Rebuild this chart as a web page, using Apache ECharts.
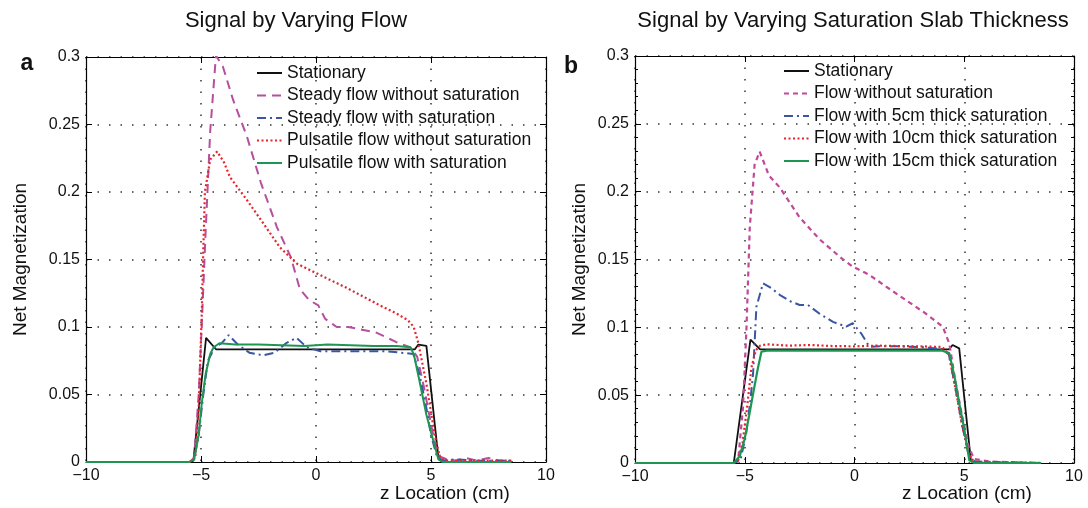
<!DOCTYPE html>
<html>
<head>
<meta charset="utf-8">
<title>Signal by Varying Flow / Saturation Slab Thickness</title>
<script src="https://cdn.jsdelivr.net/npm/echarts@6/dist/echarts.min.js"></script>
<style>
  html, body { margin: 0; padding: 0; background: #fff; }
  #chart { width: 1088px; height: 508px; }
</style>
</head>
<body>
<div id="chart"></div>
<script>
// ---- panel a: signal by varying flow ----
const aStationaryX = [-10, -5.5, -5.33, -4.78, -4.35, 0, 4.3, 4.45, 4.8, 5.32, 5.5, 8.5];
const aStationaryY = [0, 0, 0.001, 0.092, 0.0835, 0.0835, 0.0835, 0.087, 0.086, 0.003, 0, 0];

const aSteadyNoSatX = [-10, -5.5, -5.3, -5.1, -4.97, -4.8, -4.6, -4.35, -4.05, -3.6, -3.0, -2.4, -1.7, -1.1, -0.7, -0.3, 0.1, 0.4, 0.9, 1.4, 2.0, 2.6, 3.1, 3.6, 4.1, 4.4, 4.7, 5.0, 5.2, 5.4, 5.7, 6.1, 6.5, 7.0, 7.5, 8.0, 8.5];
const aSteadyNoSatY = [0, 0, 0.003, 0.05, 0.1, 0.17, 0.245, 0.301, 0.293, 0.268, 0.241, 0.207, 0.174, 0.152, 0.128, 0.12, 0.116, 0.106, 0.1, 0.1, 0.098, 0.096, 0.092, 0.088, 0.085, 0.078, 0.055, 0.028, 0.012, 0.004, 0.002, 0.001, 0.003, 0.001, 0.003, 0.001, 0.001];

const aSteadySatX = [-10, -5.5, -5.3, -5.1, -4.9, -4.7, -4.4, -4.1, -3.8, -3.4, -2.9, -2.3, -1.8, -1.3, -0.85, -0.4, 0.2, 1.0, 2.0, 3.0, 3.7, 4.23, 4.5, 4.8, 5.0, 5.24, 5.5, 6.0, 7.0, 8.5];
const aSteadySatY = [0, 0, 0.002, 0.02, 0.05, 0.075, 0.085, 0.088, 0.094, 0.087, 0.081, 0.079, 0.081, 0.088, 0.092, 0.085, 0.082, 0.082, 0.082, 0.082, 0.081, 0.08, 0.065, 0.04, 0.02, 0.005, 0.001, 0.002, 0.001, 0.001];

const aPulsNoSatX = [-10, -5.5, -5.25, -5.1, -4.97, -4.9, -4.83, -4.6, -4.3, -4.0, -3.74, -3.0, -2.3, -1.57, -0.84, -0.12, 0.6, 1.33, 2.06, 2.78, 3.5, 4.0, 4.25, 4.45, 4.8, 5.17, 5.4, 5.7, 8.5];
const aPulsNoSatY = [0, 0, 0.003, 0.04, 0.108, 0.157, 0.2, 0.224, 0.23, 0.222, 0.211, 0.194, 0.177, 0.159, 0.147, 0.141, 0.135, 0.129, 0.1225, 0.116, 0.11, 0.105, 0.1, 0.088, 0.058, 0.019, 0.003, 0.001, 0.001];

const aPulsSatX = [-10, -5.5, -5.3, -5.1, -4.97, -4.8, -4.6, -4.45, -4.2, -3.5, -2.5, -1.5, -0.5, 0.5, 1.5, 2.5, 3.5, 4.1, 4.25, 4.5, 4.8, 5.0, 5.32, 5.5, 8.5];
const aPulsSatY = [0, 0, 0.002, 0.02, 0.043, 0.065, 0.08, 0.085, 0.088, 0.087, 0.087, 0.0865, 0.086, 0.087, 0.0865, 0.086, 0.086, 0.085, 0.08, 0.06, 0.035, 0.022, 0.002, 0, 0];

// ---- panel b: signal by varying saturation slab thickness ----
const bStationaryX = [-10, -5.5, -5.45, -4.74, -4.3, 0, 4.3, 4.47, 4.77, 5.3, 5.5, 8.5];
const bStationaryY = [0, 0, 0.001, 0.091, 0.0838, 0.0838, 0.0838, 0.087, 0.0845, 0.002, 0, 0];

const bNoSatX = [-10, -5.5, -5.3, -5.08, -4.92, -4.77, -4.55, -4.32, -3.9, -3.4, -2.5, -1.6, -1.1, -0.6, -0.08, 0.68, 1.44, 2.35, 3.26, 4.02, 4.32, 4.6, 4.9, 5.2, 5.45, 5.8, 6.2, 8.5];
const bNoSatY = [0, 0, 0.002, 0.041, 0.1, 0.174, 0.22, 0.2295, 0.212, 0.203, 0.181, 0.165, 0.158, 0.151, 0.1447, 0.1386, 0.13, 0.12, 0.11, 0.1005, 0.088, 0.06, 0.035, 0.012, 0.003, 0.002, 0.001, 0];

const b5cmX = [-10, -5.5, -5.2, -4.95, -4.75, -4.62, -4.47, -4.17, -3.8, -3.41, -2.9, -2.5, -2.12, -1.59, -0.98, -0.38, -0.08, 0.3, 0.68, 1.2, 2.0, 3.0, 4.0, 4.3, 4.6, 4.9, 5.2, 5.5, 8.5];
const b5cmY = [0, 0, 0.002, 0.02, 0.045, 0.066, 0.115, 0.1324, 0.129, 0.124, 0.119, 0.1165, 0.1165, 0.11, 0.104, 0.1005, 0.103, 0.0956, 0.0857, 0.086, 0.086, 0.0855, 0.084, 0.08, 0.055, 0.028, 0.006, 0.001, 0];

const b10cmX = [-10, -5.5, -5.3, -5.1, -4.9, -4.7, -4.5, -4.3, -4.0, -3.0, -2.0, -1.0, 0, 1.0, 2.0, 3.0, 4.0, 4.3, 4.6, 4.9, 5.2, 5.45, 8.5];
const b10cmY = [0, 0, 0.002, 0.015, 0.04, 0.07, 0.083, 0.0865, 0.0875, 0.0865, 0.087, 0.0862, 0.086, 0.0865, 0.0862, 0.086, 0.0855, 0.08, 0.055, 0.028, 0.006, 0.001, 0];

const b15cmX = [-10, -5.5, -5.23, -5.0, -4.8, -4.62, -4.4, -4.24, -4.0, 0, 4.0, 4.32, 4.6, 4.77, 5.0, 5.23, 5.45, 8.5];
const b15cmY = [0, 0, 0.005, 0.018, 0.035, 0.051, 0.07, 0.082, 0.0828, 0.0828, 0.0828, 0.081, 0.06, 0.044, 0.025, 0.002, 0, 0];

const aNames = ['Stationary', 'Steady flow without saturation', 'Steady flow with saturation',
  'Pulsatile flow without saturation', 'Pulsatile flow with saturation'];
const bNames = ['Stationary', 'Flow without saturation', 'Flow with 5cm thick saturation',
  'Flow with 10cm thick saturation', 'Flow with 15cm thick saturation'];

const FONT = '"Liberation Sans", Arial, Helvetica, sans-serif';
const INK = '#111';

const pts = (xs, ys) => xs.map((x, i) => [x, ys[i]]);

function line(name, xs, ys, panel, color, type, width) {
  return {
    name, type: 'line', data: pts(xs, ys),
    xAxisIndex: panel * 2, yAxisIndex: panel * 2,
    symbol: 'none', showSymbol: false, clip: true,
    lineStyle: { color, type, width },
    itemStyle: { color },
    emphasis: { disabled: true }
  };
}

const dotted = { color: '#333', type: [1.5, 10], width: 1.5 };
const minus = v => (v < 0 ? '\u2212' + (-v) : String(v));

function xAxes(grid) {
  const base = {
    type: 'value', gridIndex: grid, min: -10, max: 10, interval: 5,
    axisLine: { show: true, onZero: false, lineStyle: { color: '#000', width: 1.2 } },
    axisTick: { show: true, inside: true, length: 6, lineStyle: { color: '#000' } }
  };
  return [
    Object.assign({}, base, {
      position: 'bottom',
      axisLabel: { color: INK, fontSize: 16, fontFamily: FONT, margin: 6, formatter: minus },
      splitLine: { show: true, lineStyle: dotted }
    }),
    Object.assign({}, base, {
      position: 'top', axisLabel: { show: false }, splitLine: { show: false }
    })
  ];
}

function yAxes(grid, minor, nameGap) {
  const base = {
    type: 'value', gridIndex: grid, min: 0, max: 0.3, interval: 0.05,
    axisLine: { show: true, onZero: false, lineStyle: { color: '#000', width: 1.2 } },
    axisTick: { show: true, inside: true, length: 6, lineStyle: { color: '#000' } },
    minorTick: { show: minor, splitNumber: 5, length: 3, lineStyle: { color: '#000' } }
  };
  return [
    Object.assign({}, base, {
      position: 'left',
      name: 'Net Magnetization', nameLocation: 'middle', nameGap,
      nameTextStyle: { color: INK, fontSize: 19, fontFamily: FONT },
      axisLabel: { color: INK, fontSize: 16, fontFamily: FONT, margin: 6 },
      splitLine: { show: true, lineStyle: dotted }
    }),
    Object.assign({}, base, {
      position: 'right', axisLabel: { show: false }, splitLine: { show: false }
    })
  ];
}

// legend keeps only the line sample; the symbol dot is hidden
function legend(data, left, top) {
  return {
    data, left, top, orient: 'vertical', selectedMode: false,
    itemWidth: 25, itemHeight: 14, itemGap: 4.5,
    itemStyle: { opacity: 0 },
    textStyle: { color: INK, fontSize: 17.5, fontFamily: FONT, lineHeight: 17 }
  };
}

function label(text, x, y, size, weight) {
  return {
    type: 'text', x, y, silent: true,
    style: { text, fill: INK, fontSize: size, fontWeight: weight || 'normal', fontFamily: FONT,
      align: 'center', verticalAlign: 'middle' }
  };
}

const option = {
  animation: false,
  backgroundColor: '#fff',
  grid: [
    { left: 86, right: 542, top: 57, bottom: 46 },
    { left: 635, right: 14, top: 56, bottom: 45 }
  ],
  xAxis: [...xAxes(0), ...xAxes(1)],
  yAxis: [...yAxes(0, false, 56), ...yAxes(1, true, 46)],
  legend: [legend(aNames, 251, 59), legend(bNames, 778, 57)],
  graphic: [
    label('Signal by Varying Flow', 296, 21, 22),
    label('Signal by Varying Saturation Slab Thickness', 853, 21, 22),
    label('a', 27, 64, 23, 'bold'),
    label('b', 571, 67, 23, 'bold'),
    label('z Location (cm)', 445, 494, 19),
    label('z Location (cm)', 967, 494, 19)
  ],
  series: [
    line(aNames[0], aStationaryX, aStationaryY, 0, '#111', 'solid', 1.8),
    line(aNames[1], aSteadyNoSatX, aSteadyNoSatY, 0, '#b4509e', [9, 6], 2),
    line(aNames[2], aSteadySatX, aSteadySatY, 0, '#3b55a5', [9, 4, 2, 4], 2),
    line(aNames[3], aPulsNoSatX, aPulsNoSatY, 0, '#e8232b', [2, 2.5], 2.2),
    line(aNames[4], aPulsSatX, aPulsSatY, 0, '#1e9652', 'solid', 2),

    line(bNames[0], bStationaryX, bStationaryY, 1, '#111', 'solid', 1.8),
    line(bNames[1], bNoSatX, bNoSatY, 1, '#c2489a', [5, 4], 2.2),
    line(bNames[2], b5cmX, b5cmY, 1, '#3b55a5', [9, 4, 2, 4], 2),
    line(bNames[3], b10cmX, b10cmY, 1, '#e8232b', [2, 2.5], 2.2),
    line(bNames[4], b15cmX, b15cmY, 1, '#1e9652', 'solid', 2.2)
  ]
};

const chart = echarts.init(document.getElementById('chart'));
chart.setOption(option);
window.addEventListener('resize', () => chart.resize());
</script>
</body>
</html>
